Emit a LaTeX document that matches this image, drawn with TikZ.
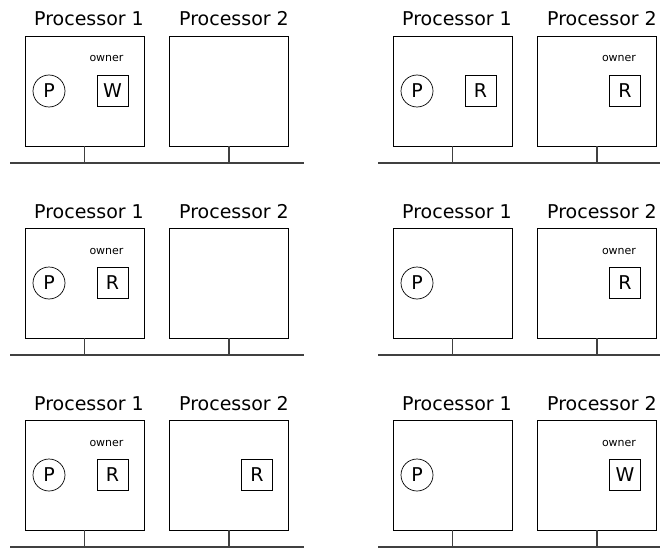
\documentclass[tikz,border=0pt]{standalone}
\usepackage{fontspec}
\setmainfont{DejaVu Sans}
\tikzset{
  procbox/.style={draw, line width=0.8pt, minimum width=119pt, minimum height=110pt, inner sep=0pt},
  ptitle/.style={font=\fontsize{19}{21}\selectfont, inner sep=0pt, anchor=base},
  cpu/.style={circle, draw, line width=0.7pt, minimum size=32pt, inner sep=0pt, font=\fontsize{19}{20}\selectfont},
  blk/.style={draw, line width=0.7pt, minimum size=31pt, inner sep=0pt, font=\fontsize{19}{20}\selectfont},
  own/.style={font=\fontsize{11}{12}\selectfont, inner sep=0pt, anchor=base},
  busline/.style={line width=1.1pt, draw=black!75},
  stub/.style={line width=1.1pt, draw=black!75}
}
\begin{document}
\begin{tikzpicture}[x=1pt,y=-1pt]
\clip (0,0) rectangle (660,548);
\foreach \n/\dx/\dy in {L1/0/0, L2/0/192, L3/0/384, R1/368/0, R2/368/192, R3/368/384}{
  \begin{scope}[shift={(\dx,\dy)}]
    \node[procbox] (\n-a) at (84.5,91) {};
    \node[procbox] (\n-b) at (229,91) {};
    \node[ptitle] (\n-ta) at (89,26) {Processor 1};
    \node[ptitle] (\n-tb) at (234,26) {Processor 2};
    \coordinate (\n-busl) at (10,163);
    \coordinate (\n-busr) at (304,163);
    \draw[busline] (\n-busl) -- (\n-busr);
    \draw[stub] (\n-a.south) -- (\n-a.south |- \n-busl);
    \draw[stub] (\n-b.south) -- (\n-b.south |- \n-busl);
  \end{scope}
}
% Left column
\node[cpu] (L1-p) at ([xshift=-35.5pt]L1-a.center) {P};
\node[blk] (L1-w) at ([xshift=28pt]L1-a.center) {W};
\node[own] (L1-o) at ([xshift=22pt,yshift=29pt]L1-a.center) {owner};

\node[cpu] (L2-p) at ([xshift=-35.5pt]L2-a.center) {P};
\node[blk] (L2-r) at ([xshift=28pt]L2-a.center) {R};
\node[own] (L2-o) at ([xshift=22pt,yshift=29pt]L2-a.center) {owner};

\node[cpu] (L3-p) at ([xshift=-35.5pt]L3-a.center) {P};
\node[blk] (L3-r) at ([xshift=28pt]L3-a.center) {R};
\node[own] (L3-o) at ([xshift=22pt,yshift=29pt]L3-a.center) {owner};
\node[blk] (L3-r2) at ([xshift=28pt]L3-b.center) {R};

% Right column
\node[cpu] (R1-p) at ([xshift=-35.5pt]R1-a.center) {P};
\node[blk] (R1-r) at ([xshift=28pt]R1-a.center) {R};
\node[blk] (R1-r2) at ([xshift=28pt]R1-b.center) {R};
\node[own] (R1-o) at ([xshift=22pt,yshift=29pt]R1-b.center) {owner};

\node[cpu] (R2-p) at ([xshift=-35.5pt]R2-a.center) {P};
\node[blk] (R2-r2) at ([xshift=28pt]R2-b.center) {R};
\node[own] (R2-o) at ([xshift=22pt,yshift=29pt]R2-b.center) {owner};

\node[cpu] (R3-p) at ([xshift=-35.5pt]R3-a.center) {P};
\node[blk] (R3-w) at ([xshift=28pt]R3-b.center) {W};
\node[own] (R3-o) at ([xshift=22pt,yshift=29pt]R3-b.center) {owner};
\end{tikzpicture}
\end{document}
